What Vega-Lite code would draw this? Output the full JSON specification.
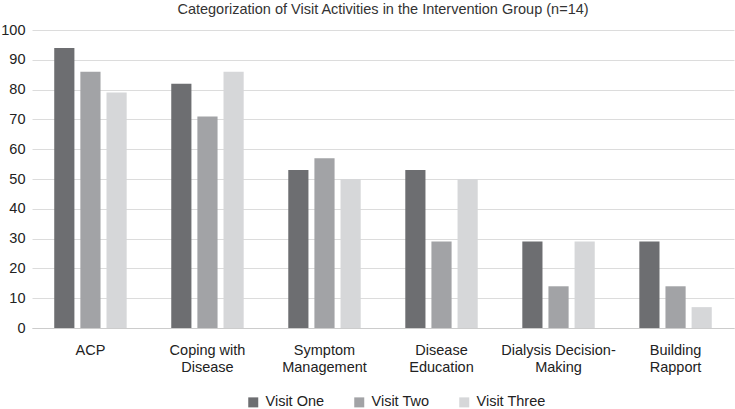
{
  "$schema": "https://vega.github.io/schema/vega-lite/v6.json",
  "width": 702,
  "height": 298,
  "autosize": "none",
  "padding": {"left": 32, "top": 30, "right": 1, "bottom": 81},
  "background": "white",
  "title": {
    "text": "Categorization of Visit Activities in the Intervention Group (n=14)",
    "font": "Liberation Sans",
    "fontSize": 14.5,
    "fontWeight": "normal",
    "color": "#333333",
    "anchor": "middle",
    "offset": 5
  },
  "data": {
    "values": [
      {"category": "ACP", "visit": "Visit One", "value": 94},
      {"category": "ACP", "visit": "Visit Two", "value": 86},
      {"category": "ACP", "visit": "Visit Three", "value": 79},
      {"category": "Coping with Disease", "visit": "Visit One", "value": 82},
      {"category": "Coping with Disease", "visit": "Visit Two", "value": 71},
      {"category": "Coping with Disease", "visit": "Visit Three", "value": 86},
      {"category": "Symptom Management", "visit": "Visit One", "value": 53},
      {"category": "Symptom Management", "visit": "Visit Two", "value": 57},
      {"category": "Symptom Management", "visit": "Visit Three", "value": 50},
      {"category": "Disease Education", "visit": "Visit One", "value": 53},
      {"category": "Disease Education", "visit": "Visit Two", "value": 29},
      {"category": "Disease Education", "visit": "Visit Three", "value": 50},
      {"category": "Dialysis Decision-Making", "visit": "Visit One", "value": 29},
      {"category": "Dialysis Decision-Making", "visit": "Visit Two", "value": 14},
      {"category": "Dialysis Decision-Making", "visit": "Visit Three", "value": 29},
      {"category": "Building Rapport", "visit": "Visit One", "value": 29},
      {"category": "Building Rapport", "visit": "Visit Two", "value": 14},
      {"category": "Building Rapport", "visit": "Visit Three", "value": 7}
    ]
  },
  "mark": {"type": "bar"},
  "encoding": {
    "x": {
      "field": "category",
      "type": "nominal",
      "sort": null,
      "scale": {"paddingInner": 0.381, "paddingOuter": 0.19},
      "axis": {
        "title": null,
        "labelAngle": 0,
        "labelFont": "Liberation Sans",
        "labelFontSize": 14.5,
        "labelColor": "#222222",
        "labelPadding": 15,
        "labelLineHeight": 17,
        "ticks": false,
        "domainColor": "#cccccc",
        "labelExpr": "datum.value == 'Coping with Disease' ? ['Coping with', 'Disease'] : datum.value == 'Symptom Management' ? ['Symptom', 'Management'] : datum.value == 'Disease Education' ? ['Disease', 'Education'] : datum.value == 'Dialysis Decision-Making' ? ['Dialysis Decision-', 'Making'] : datum.value == 'Building Rapport' ? ['Building', 'Rapport'] : datum.value"
      }
    },
    "xOffset": {
      "field": "visit",
      "type": "nominal",
      "sort": ["Visit One", "Visit Two", "Visit Three"],
      "scale": {"paddingInner": 0.228, "paddingOuter": 0}
    },
    "y": {
      "field": "value",
      "type": "quantitative",
      "scale": {"domain": [0, 100]},
      "axis": {
        "title": null,
        "values": [0, 10, 20, 30, 40, 50, 60, 70, 80, 90, 100],
        "labelFont": "Liberation Sans",
        "labelFontSize": 14.5,
        "labelColor": "#222222",
        "labelPadding": 7,
        "ticks": false,
        "domain": false,
        "grid": true,
        "gridColor": "#dcdcdc"
      }
    },
    "color": {
      "field": "visit",
      "type": "nominal",
      "sort": ["Visit One", "Visit Two", "Visit Three"],
      "scale": {"range": ["#6d6e71", "#a2a3a6", "#d6d7d9"]},
      "legend": {
        "title": null,
        "orient": "none",
        "direction": "horizontal",
        "legendX": 214,
        "legendY": 365,
        "symbolType": "square",
        "symbolSize": 100,
        "symbolStrokeWidth": 0,
        "labelFont": "Liberation Sans",
        "labelFontSize": 14.5,
        "labelColor": "#222222",
        "columnPadding": 27,
        "labelOffset": 5
      }
    }
  },
  "config": {"view": {"stroke": null}}
}
